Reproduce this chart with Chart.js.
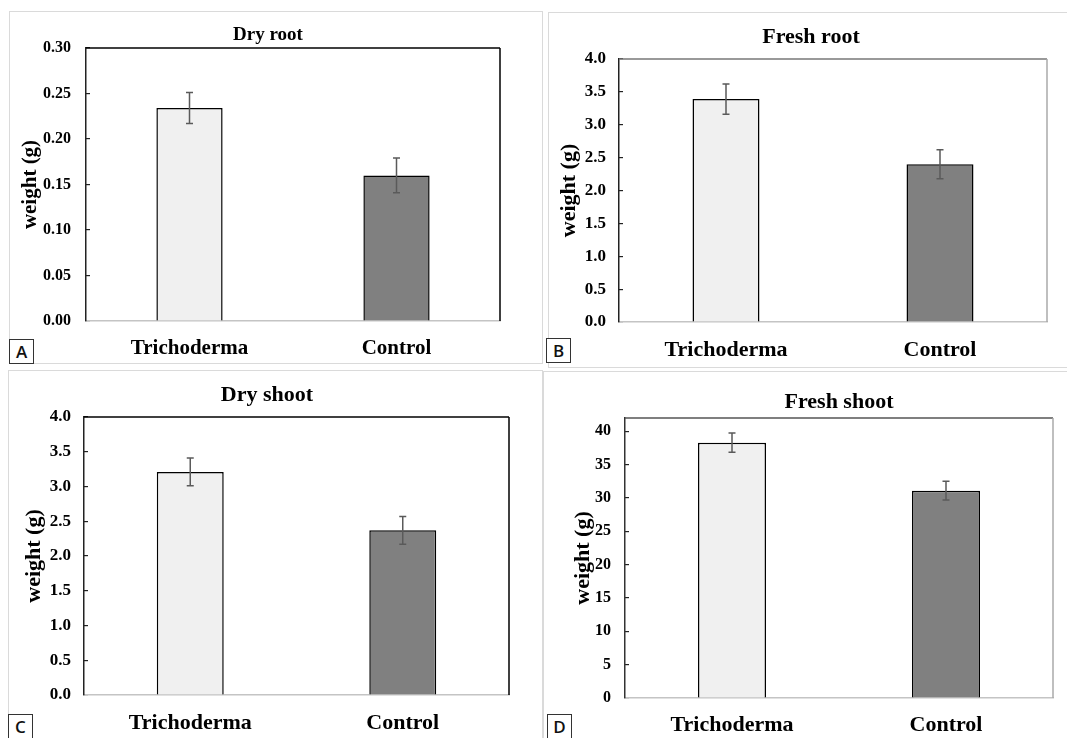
<!DOCTYPE html>
<html>
<head>
<meta charset="utf-8">
<script src="https://cdn.jsdelivr.net/npm/chart.js@4.4.0/dist/chart.umd.min.js"></script>
<style>
html, body { margin: 0; padding: 0; width: 1067px; height: 738px; overflow: hidden; background: #fff; }
.frame { position: absolute; border: 1px solid #dadada; box-sizing: border-box; }
.tag { position: absolute; width: 25px; height: 25px; border: 1px solid #333; box-sizing: border-box; background: #fff;
       font: 600 17px "Open Sans", sans-serif; text-align: center; line-height: 24px; color: #111; }
canvas { position: absolute; }
</style>
</head>
<body>
<div class="frame" style="left:9px;top:11px;width:534px;height:353px"></div>
<div class="frame" style="left:548px;top:12px;width:525px;height:356px"></div>
<div class="frame" style="left:8px;top:370px;width:535px;height:380px"></div>
<div class="frame" style="left:543px;top:371px;width:530px;height:380px"></div>

<canvas id="dryRoot"></canvas>
<canvas id="freshRoot"></canvas>
<canvas id="dryShoot"></canvas>
<canvas id="freshShoot"></canvas>

<div class="tag" style="left:9px;top:339px">A</div>
<div class="tag" style="left:546px;top:338px">B</div>
<div class="tag" style="left:8px;top:714px">C</div>
<div class="tag" style="left:547px;top:714px">D</div>

<script>
const categories = ['Trichoderma', 'Control'];

const dryRootMean = [0.234, 0.160];
const dryRootErr = [0.017, 0.019];

const freshRootMean = [3.39, 2.40];
const freshRootErr = [0.23, 0.22];

const dryShootMean = [3.21, 2.37];
const dryShootErr = [0.20, 0.20];

const freshShootMean = [38.3, 31.1];
const freshShootErr = [1.45, 1.4];

const barColors = ['#f0f0f0', '#808080'];
const serif = '"Liberation Serif", "Times New Roman", serif';
const TICK_LEN = 4; // y ticks point into the plot

// top and right edges of the plot box
const plotFrame = {
    id: 'plotFrame',
    afterDraw(chart, args, opts) {
        const { ctx, chartArea: a } = chart;
        ctx.save();
        ctx.lineWidth = 1.5;
        ctx.strokeStyle = opts.top;
        ctx.beginPath();
        ctx.moveTo(a.left, a.top);
        ctx.lineTo(a.right, a.top);
        ctx.stroke();
        ctx.strokeStyle = opts.right;
        ctx.beginPath();
        ctx.moveTo(a.right, a.top);
        ctx.lineTo(a.right, a.bottom);
        ctx.stroke();
        ctx.restore();
    }
};

const errorBars = {
    id: 'errorBars',
    afterDatasetsDraw(chart) {
        const { ctx } = chart;
        const y = chart.scales.y;
        chart.data.datasets.forEach((ds, di) => {
            chart.getDatasetMeta(di).data.forEach((bar, i) => {
                const hi = y.getPixelForValue(ds.data[i] + ds.errors[i]);
                const lo = y.getPixelForValue(ds.data[i] - ds.errors[i]);
                ctx.save();
                ctx.strokeStyle = '#5a5a5a';
                ctx.lineWidth = 1.5;
                ctx.beginPath();
                ctx.moveTo(bar.x, hi); ctx.lineTo(bar.x, lo);
                ctx.moveTo(bar.x - 3.5, hi); ctx.lineTo(bar.x + 3.5, hi);
                ctx.moveTo(bar.x - 3.5, lo); ctx.lineTo(bar.x + 3.5, lo);
                ctx.stroke();
                ctx.restore();
            });
        });
    }
};

// p holds page positions (px) of the canvas, plot box and text centres
function makeChart(id, p) {
    const cv = document.getElementById(id);
    cv.width = p.W; cv.height = p.H;
    cv.style.left = p.L + 'px'; cv.style.top = p.T + 'px';

    const padL = p.titleFull ? 2 * p.Tc - p.Pr - p.L : 0;
    const padR = p.L + p.W - p.Pr;
    const yW = p.Pl - p.L - padL;
    const xH = p.T + p.H - p.Pb;
    const tlh = p.titleSize * 1.2;
    const clh = p.catSize * 1.2;

    return new Chart(cv, {
        type: 'bar',
        data: {
            labels: categories,
            datasets: [{
                data: p.values,
                errors: p.errors,
                backgroundColor: barColors,
                borderColor: '#000',
                borderWidth: 1.5,
                barPercentage: p.barPct,
                categoryPercentage: 1
            }]
        },
        options: {
            responsive: false,
            animation: false,
            layout: { padding: { left: padL, right: padR, top: 0, bottom: 0 } },
            plugins: {
                legend: { display: false },
                tooltip: { enabled: false },
                title: {
                    display: true,
                    text: p.title,
                    color: '#000',
                    fullSize: p.titleFull,
                    font: { family: serif, size: p.titleSize, weight: 'bold' },
                    padding: { top: p.Ty - p.T - tlh / 2, bottom: p.Pt - p.Ty - tlh / 2 }
                },
                plotFrame: p.frame
            },
            scales: {
                x: {
                    grid: { display: false, drawTicks: false },
                    border: { display: true, color: '#c4c4c4', width: 1.5 },
                    ticks: {
                        color: '#000',
                        padding: p.Cy - p.Pb - clh / 2,
                        font: { family: serif, size: p.catSize, weight: 'bold' }
                    },
                    afterFit: s => { s.height = xH; }
                },
                y: {
                    min: 0,
                    max: p.max,
                    grid: { display: true, drawOnChartArea: false, drawTicks: true, tickLength: -TICK_LEN, color: '#222', lineWidth: 1.2 },
                    border: { display: true, color: p.axisColor, width: 1.5 },
                    ticks: {
                        stepSize: p.step,
                        includeBounds: false,
                        color: '#000',
                        padding: p.Pl - p.tickRight + TICK_LEN,
                        font: { family: serif, size: p.tickSize, weight: 'bold' },
                        callback: v => v.toFixed(p.digits)
                    },
                    title: {
                        display: true,
                        text: 'weight (g)',
                        color: '#000',
                        font: { family: serif, size: p.axisTitleSize, weight: 'bold', lineHeight: 1 },
                        padding: { top: p.Ax - (p.L + padL) - p.axisTitleSize / 2, bottom: 0 }
                    },
                    afterFit: s => { s.width = yW; }
                }
            }
        },
        plugins: [plotFrame, errorBars]
    });
}

makeChart('dryRoot', {
    values: dryRootMean, errors: dryRootErr, title: 'Dry root',
    max: 0.30, step: 0.05, digits: 2, barPct: 0.32,
    L: 10, T: 12, W: 532, H: 350,
    Pl: 86, Pr: 500, Pt: 48, Pb: 321,
    titleFull: true, Tc: 268, Ty: 35.5, Ax: 30.5, tickRight: 71, Cy: 349,
    titleSize: 19, tickSize: 16, catSize: 21, axisTitleSize: 21,
    axisColor: '#222', frame: { top: '#000', right: '#000' }
});

makeChart('freshRoot', {
    values: freshRootMean, errors: freshRootErr, title: 'Fresh root',
    max: 4, step: 0.5, digits: 1, barPct: 0.313,
    L: 549, T: 13, W: 517, H: 354,
    Pl: 619, Pr: 1047, Pt: 59, Pb: 322,
    titleFull: true, Tc: 811, Ty: 37.5, Ax: 569.5, tickRight: 606, Cy: 350,
    titleSize: 22, tickSize: 17, catSize: 22, axisTitleSize: 22,
    axisColor: '#222', frame: { top: '#777', right: '#aaa' }
});

makeChart('dryShoot', {
    values: dryShootMean, errors: dryShootErr, title: 'Dry shoot',
    max: 4, step: 0.5, digits: 1, barPct: 0.315,
    L: 10, T: 371, W: 532, H: 367,
    Pl: 84, Pr: 509, Pt: 417, Pb: 695,
    titleFull: true, Tc: 267, Ty: 395, Ax: 34.3, tickRight: 71, Cy: 723,
    titleSize: 22, tickSize: 17, catSize: 22, axisTitleSize: 22,
    axisColor: '#222', frame: { top: '#000', right: '#000' }
});

makeChart('freshShoot', {
    values: freshShootMean, errors: freshShootErr, title: 'Fresh shoot',
    max: 42, step: 5, digits: 0, barPct: 0.318,
    L: 544, T: 372, W: 523, H: 366,
    Pl: 625, Pr: 1053, Pt: 418, Pb: 698,
    titleFull: false, Tc: 840, Ty: 402.5, Ax: 583, tickRight: 611, Cy: 725,
    titleSize: 22, tickSize: 16, catSize: 22, axisTitleSize: 22,
    axisColor: '#333', frame: { top: '#555', right: '#aaa' }
});
</script>
</body>
</html>
